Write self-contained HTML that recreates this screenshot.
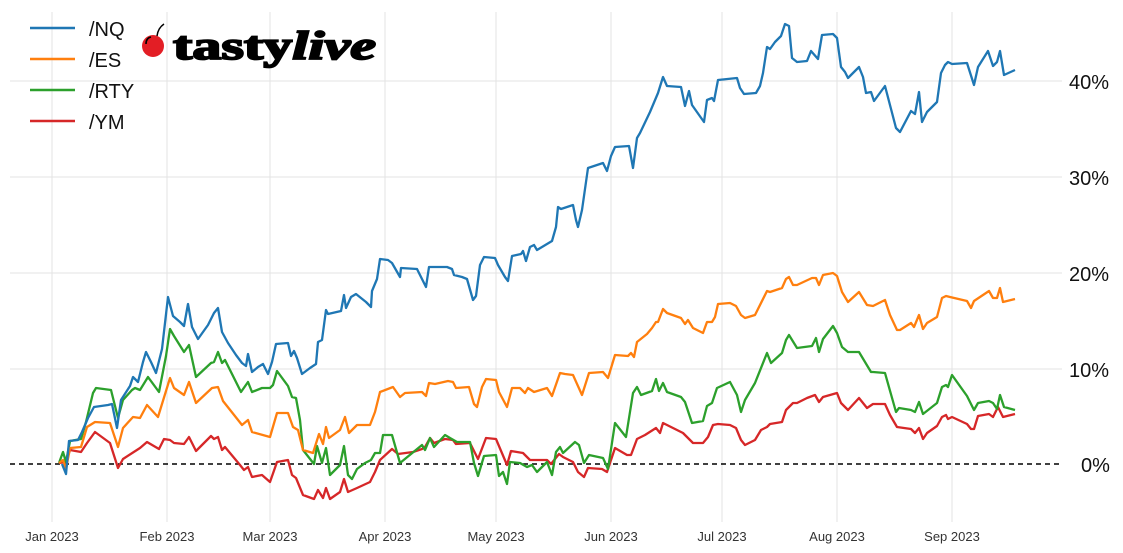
<!DOCTYPE html>
<html><head><meta charset="utf-8"><style>
html,body{margin:0;padding:0;background:#fff;}
svg{display:block;font-family:"Liberation Sans","DejaVu Sans",sans-serif;}
</style></head><body>
<svg width="1123" height="553" viewBox="0 0 1123 553" xmlns="http://www.w3.org/2000/svg">
<g stroke="#e3e3e3" stroke-width="1">
<line x1="52" y1="12" x2="52" y2="522"/><line x1="167" y1="12" x2="167" y2="522"/><line x1="270" y1="12" x2="270" y2="522"/><line x1="385" y1="12" x2="385" y2="522"/><line x1="496" y1="12" x2="496" y2="522"/><line x1="611" y1="12" x2="611" y2="522"/><line x1="722" y1="12" x2="722" y2="522"/><line x1="837" y1="12" x2="837" y2="522"/><line x1="952" y1="12" x2="952" y2="522"/>
<line x1="10" y1="81" x2="1062" y2="81"/><line x1="10" y1="177" x2="1062" y2="177"/><line x1="10" y1="273" x2="1062" y2="273"/><line x1="10" y1="369" x2="1062" y2="369"/>
</g>
<line x1="10" y1="464" x2="1062" y2="464" stroke="#000" stroke-width="1.5" stroke-dasharray="5,4"/>
<g fill="none" stroke-width="2.3" stroke-linejoin="round">
<polyline stroke="#d62728" points="59,463 66,462 70,450 81,452 87,443 95,432 110,443 118,468 123,459 140,448 147,442 159,449 164,439 170,440 174,443 184,444 189,437 196,451 211,436 214,439 218,437 222,450 225,447 240,465 244,470 248,467 252,477 262,475 270,482 277,462 288,460 292,475 296,478 303,495 314,499 318,490 323,498 326,488 330,499 340,492 344,479 348,492 357,488 370,482 375,472 380,460 392,449 398,454 413,452 422,449 425,447 430,438 434,443 445,439 453,440 456,444 470,443 478,459 486,438 496,439 507,465 511,451 523,453 530,460 547,460 551,464 559,454 563,457 573,462 578,472 584,477 588,468 602,469 607,472 615,448 627,455 631,455 637,439 645,435 656,428 660,433 663,423 683,433 693,443 703,443 708,437 713,425 718,424 730,425 736,428 741,440 745,445 755,440 761,430 767,427 770,424 782,422 786,410 793,403 797,403 807,398 815,395 819,402 823,397 837,393 841,403 848,410 859,398 867,408 873,404 885,404 890,415 897,427 911,429 915,433 919,428 923,439 927,433 937,426 942,417 946,415 948,419 952,417 967,424 971,429 974,429 978,416 989,414 993,417 998,407 1003,417 1015,414"/>
<polyline stroke="#2ca02c" points="59,463 63,452 66,462 70,441 81,439 86,422 93,393 96,388 111,390 118,418 123,400 132,390 135,388 140,390 148,377 159,392 166,356 170,329 174,336 184,352 189,345 196,377 211,363 214,362 218,352 222,363 225,360 241,392 248,382 252,392 262,388 270,388 273,385 277,371 288,386 292,397 296,398 300,420 303,450 314,464 317,446 322,463 326,448 330,475 340,465 344,446 348,475 352,479 357,469 365,463 371,460 375,453 380,453 383,435 392,435 400,463 422,445 425,450 430,438 434,447 445,435 450,438 457,442 470,442 474,463 478,476 484,456 496,455 499,476 503,472 507,484 510,462 520,463 527,467 532,465 537,472 547,462 552,475 556,452 560,447 563,453 575,442 579,445 584,463 589,455 603,458 608,469 615,423 626,437 633,393 637,387 641,395 652,391 656,379 659,391 663,383 667,392 681,397 685,402 692,423 703,421 707,406 712,403 717,388 730,382 737,395 741,412 745,400 755,383 767,353 771,363 782,353 786,340 789,335 797,348 812,346 816,338 819,352 823,339 833,326 837,333 842,347 848,352 859,352 871,372 873,372 885,373 896,412 899,408 911,410 915,412 919,402 923,414 937,403 942,387 946,385 948,387 952,375 967,396 974,410 978,403 989,401 993,403 997,409 1000,395 1004,407 1015,410"/>
<polyline stroke="#ff7f0e" points="59,463 63,460 66,469 70,448 81,447 87,427 95,422 110,423 118,447 123,428 133,417 140,418 147,405 158,417 170,378 174,388 184,395 189,382 196,403 212,388 218,387 223,401 242,425 248,420 252,432 270,437 277,413 288,413 293,427 298,430 303,450 313,453 319,434 323,444 326,427 329,438 340,430 345,417 349,433 357,425 370,425 375,412 380,392 393,387 400,397 405,393 422,392 426,396 429,383 435,384 448,381 453,382 456,388 469,387 474,404 477,407 482,387 486,379 496,380 499,392 507,407 512,388 520,388 525,393 528,388 534,392 547,388 552,396 560,373 565,374 573,375 582,395 589,373 603,372 608,378 615,355 628,356 631,353 634,357 637,342 647,334 652,328 656,322 658,322 663,309 667,313 681,318 685,324 688,320 693,328 703,333 707,322 712,322 715,317 718,304 730,303 736,306 741,315 745,318 755,315 767,291 770,292 782,288 786,279 789,277 793,285 797,285 812,278 816,278 819,285 823,275 833,273 837,276 842,292 848,302 859,292 867,305 873,306 885,300 890,315 897,330 900,330 911,323 914,327 919,315 923,329 927,323 937,317 942,298 946,296 950,297 967,301 971,308 974,301 989,291 993,298 997,298 1000,288 1003,302 1015,299"/>
<polyline stroke="#1f77b4" points="62,464 66,474 69,441 78,440 82,432 88,418 94,407 108,405 112,404 117,428 121,400 130,386 133,377 138,382 143,362 146,352 151,362 156,373 162,349 168,297 173,316 180,322 184,326 188,304 192,327 198,339 208,325 214,313 218,308 222,332 228,343 236,355 242,363 246,366 248,354 252,372 258,367 263,364 268,374 272,362 276,344 288,343 291,356 294,351 297,358 302,374 310,368 316,364 318,342 322,340 326,310 328,314 341,311 344,295 346,308 351,297 356,294 366,302 371,307 372,291 377,279 380,259 388,260 392,263 396,270 400,277 401,268 417,269 421,277 426,287 429,267 447,267 452,269 454,275 462,277 467,279 473,300 476,296 480,265 484,257 495,258 498,265 505,277 508,281 512,256 521,254 523,251 526,261 530,247 534,245 537,250 552,241 556,227 558,207 561,209 573,205 576,220 578,227 582,210 588,168 603,163 607,171 611,156 615,147 629,146 633,168 637,138 640,133 650,112 658,93 663,77 667,86 681,87 685,106 689,91 692,105 704,122 707,100 712,98 714,101 718,80 737,78 740,88 744,94 756,93 760,86 763,73 767,47 770,49 775,42 781,36 785,24 789,26 792,58 797,62 807,61 811,51 818,59 822,35 833,34 837,38 841,67 845,72 848,78 859,67 863,77 866,93 871,92 874,101 885,86 896,128 900,132 911,111 915,114 919,92 922,122 927,112 937,102 941,73 945,65 948,62 952,64 967,63 974,85 978,67 988,51 993,66 997,62 1000,51 1004,75 1015,70"/>
</g>
<g font-size="20" fill="#111">
<text x="1069" y="89">40%</text><text x="1069" y="185">30%</text><text x="1069" y="281">20%</text><text x="1069" y="377">10%</text><text x="1081" y="472">0%</text>
</g>
<g font-size="13" fill="#333" text-anchor="middle">
<text x="52" y="541">Jan 2023</text><text x="167" y="541">Feb 2023</text><text x="270" y="541">Mar 2023</text><text x="385" y="541">Apr 2023</text><text x="496" y="541">May 2023</text><text x="611" y="541">Jun 2023</text><text x="722" y="541">Jul 2023</text><text x="837" y="541">Aug 2023</text><text x="952" y="541">Sep 2023</text>
</g>
<g stroke-width="2.5">
<line x1="30" y1="28" x2="75" y2="28" stroke="#1f77b4"/><line x1="30" y1="59" x2="75" y2="59" stroke="#ff7f0e"/><line x1="30" y1="90" x2="75" y2="90" stroke="#2ca02c"/><line x1="30" y1="121" x2="75" y2="121" stroke="#d62728"/>
</g>
<g font-size="20" fill="#111">
<text x="89" y="36">/NQ</text><text x="89" y="67">/ES</text><text x="89" y="98">/RTY</text><text x="89" y="129">/YM</text>
</g>
<circle cx="153" cy="46" r="11" fill="#e31e25"/>
<path d="M146,44 q0,-6 5,-7" stroke="#000" stroke-width="1.6" fill="none"/>
<path d="M157,36 q1,-8 7,-12" stroke="#000" stroke-width="1.5" fill="none"/>
<text x="173" y="59" font-family="'Liberation Serif',serif" font-weight="bold" font-size="40" fill="#000" stroke="#000" stroke-width="1.8" textLength="203" lengthAdjust="spacingAndGlyphs">tasty<tspan font-style="italic">live</tspan></text>
</svg>
</body></html>
